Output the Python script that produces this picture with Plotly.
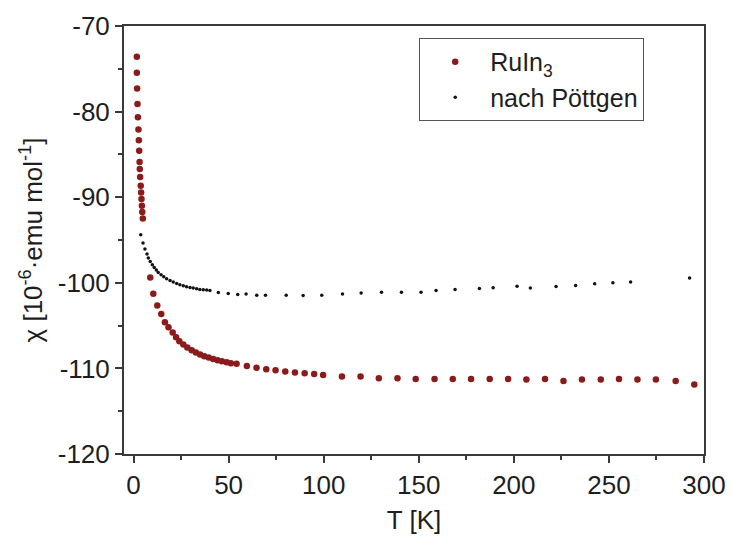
import plotly.graph_objects as go

# RuIn3 susceptibility data (T in K, chi in 1e-6 emu/mol)
ruin3_T = [1.75, 1.75, 1.9, 2.1, 2.3, 2.6, 2.8, 3.0, 3.2, 3.3, 3.5, 3.8, 4.0, 4.2, 4.4, 4.6, 4.9,
           8.8, 10.4, 12.5, 14.6, 16.5, 18.4, 20.6, 22.4, 24.1, 26.2, 28.3, 30.6, 32.8, 35.0,
           37.2, 39.5, 41.9, 44.2, 46.5, 49.0, 51.2, 54.2,
           59.6, 64.7, 69.8, 74.7, 79.8, 84.9, 90.0, 95.0, 99.7, 109.6, 119.4, 129.0, 138.8,
           148.4, 158.3, 167.9, 177.5, 187.3, 197.0, 206.6, 216.4, 226.1, 235.8, 245.7, 255.3,
           265.0, 274.7, 285.1, 294.9]
ruin3_chi = [-73.6, -75.47, -77.31, -79.1, -80.67, -82.1, -83.36, -84.56, -85.88, -86.7, -87.64,
             -88.65, -89.44, -90.21, -90.99, -91.73, -92.48,
             -99.38, -101.29, -102.65, -103.65, -104.6, -105.18, -105.81, -106.35, -106.82,
             -107.22, -107.57, -107.87, -108.15, -108.39, -108.57, -108.74, -108.89, -109.04,
             -109.16, -109.27, -109.39, -109.47,
             -109.71, -109.91, -110.09, -110.21, -110.37, -110.49, -110.56, -110.64, -110.76,
             -110.96, -110.96, -111.15, -111.15, -111.23, -111.23, -111.23, -111.23, -111.23,
             -111.23, -111.31, -111.23, -111.46, -111.31, -111.31, -111.23, -111.31, -111.31,
             -111.46, -111.89]

# Literature data (nach Pöttgen)
poett_T = [3.8, 5.0, 6.0, 7.1, 7.8, 8.8, 9.9, 10.9, 12.0, 13.0, 14.5, 15.9, 17.4, 19.2, 20.9,
           22.7, 24.4, 26.2, 27.9, 29.7, 31.4, 33.2, 34.9, 36.7, 38.5, 40.2, 44.6, 49.8, 54.8,
           59.2, 64.8, 69.4, 80.3, 89.2, 99.0, 109.9, 119.7, 130.4, 140.9, 151.2, 159.1,
           169.1, 181.9, 189.1, 201.7, 208.7, 222.2, 232.5, 242.5, 252.1, 261.4, 292.4]
poett_chi = [-94.39, -95.36, -96.06, -96.64, -97.11, -97.51, -97.89, -98.2, -98.51, -98.8,
             -99.06, -99.3, -99.53, -99.73, -99.92, -100.08, -100.23, -100.35, -100.47,
             -100.55, -100.62, -100.7, -100.78, -100.82, -100.85, -100.9, -101.13, -101.25,
             -101.37, -101.32, -101.44, -101.45, -101.45, -101.49, -101.44, -101.32, -101.2,
             -101.09, -101.09, -101.09, -100.9, -100.78, -100.67, -100.58, -100.39, -100.62,
             -100.43, -100.32, -100.12, -100.0, -99.92, -99.45]

# Axis ticks (labels written with a plain hyphen)
x_tick_vals = [0, 50, 100, 150, 200, 250, 300]
x_tick_text = ["0", "50", "100", "150", "200", "250", "300"]
y_tick_vals = [-120, -110, -100, -90, -80, -70]
y_tick_text = ["-120", "-110", "-100", "-90", "-80", "-70"]

font_family = "Arial, Liberation Sans, sans-serif"
axis_color = "#3a3a3a"
text_color = "#1e1e1e"

fig = go.Figure()
fig.add_trace(go.Scatter(
    x=ruin3_T, y=ruin3_chi, mode="markers", name="RuIn<sub>3</sub>",
    marker=dict(color="#8b1a1a", size=6.5, line=dict(width=0)),
))
fig.add_trace(go.Scatter(
    x=poett_T, y=poett_chi, mode="markers", name="nach Pöttgen",
    marker=dict(color="#111111", size=3.5, line=dict(width=0)),
))

axis_common = dict(
    showline=True, linecolor=axis_color, linewidth=2, mirror=True,
    ticks="outside", ticklen=7, tickwidth=1.5, tickcolor=axis_color,
    showgrid=False, zeroline=False, automargin=False,
    tickfont=dict(family=font_family, size=26, color=text_color),
    title_font=dict(family=font_family, size=26, color=text_color),
)

fig.update_xaxes(
    range=[-5, 300], tickvals=x_tick_vals, ticktext=x_tick_text,
    minor=dict(dtick=25, tick0=0, ticks="outside", ticklen=4, tickcolor=axis_color),
    title_text="T [K]", title_standoff=12, **axis_common,
)
fig.update_yaxes(
    range=[-120, -70], tickvals=y_tick_vals, ticktext=y_tick_text,
    minor=dict(dtick=5, tick0=-120, ticks="outside", ticklen=4, tickcolor=axis_color),
    title_text="χ [10<sup>-6</sup>·emu mol<sup>-1</sup>]", title_standoff=8, **axis_common,
)

fig.update_layout(
    width=732, height=538,
    margin=dict(l=124, r=28, t=26, b=84),
    plot_bgcolor="white", paper_bgcolor="white",
    font=dict(family=font_family, color=text_color),
    legend=dict(
        orientation="v", itemwidth=60,
        x=0.509, y=0.972, xanchor="left", yanchor="top",
        bgcolor="white", bordercolor="#555555", borderwidth=1,
        font=dict(family=font_family, size=25, color=text_color),
        itemsizing="trace",
    ),
)

fig.write_html("out.html")
